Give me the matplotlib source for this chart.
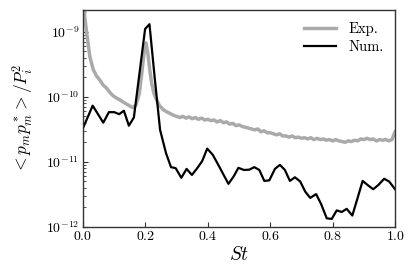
import matplotlib
matplotlib.use("Agg")
import matplotlib.pyplot as plt
from matplotlib.ticker import FuncFormatter, LogLocator, FixedLocator

plt.rcParams['font.family'] = ['cmr10', 'DejaVu Serif']
plt.rcParams['mathtext.fontset'] = 'cm'
plt.rcParams['axes.unicode_minus'] = False

exp_st = [0.0, 0.005, 0.012, 0.022, 0.033, 0.043, 0.054, 0.065, 0.076, 0.087,
          0.097, 0.108, 0.119, 0.130, 0.140, 0.150, 0.160, 0.170, 0.180, 0.188,
          0.196, 0.202, 0.208, 0.214, 0.220, 0.228, 0.236, 0.245, 0.258, 0.270,
          0.280, 0.290,
          0.30, 0.31, 0.32, 0.33, 0.34, 0.35, 0.36, 0.37, 0.38, 0.39,
          0.40, 0.41, 0.42, 0.43, 0.44, 0.45, 0.46, 0.47, 0.48, 0.49,
          0.50, 0.51, 0.52, 0.53, 0.54, 0.55, 0.56, 0.57, 0.58, 0.59,
          0.60, 0.61, 0.62, 0.63, 0.64, 0.65, 0.66, 0.67, 0.68, 0.69,
          0.70, 0.71, 0.72, 0.73, 0.74, 0.75, 0.76, 0.77, 0.78, 0.79,
          0.80, 0.81, 0.82, 0.83, 0.84, 0.85, 0.86, 0.87, 0.88, 0.89,
          0.90, 0.91, 0.92, 0.93, 0.94, 0.95, 0.96, 0.97, 0.98, 0.99, 1.00]
exp_val = [5e-9, 1.8e-9, 9.4e-10, 4.1e-10, 2.6e-10, 2.1e-10, 1.8e-10, 1.5e-10, 1.35e-10, 1.15e-10,
           1.03e-10, 9.5e-11, 8.9e-11, 8.2e-11, 7.7e-11, 7.2e-11, 6.8e-11, 7.5e-11, 1.1e-10, 2.2e-10,
           5.0e-10, 6.7e-10, 4.5e-10, 2.6e-10, 1.6e-10, 1.1e-10, 8.9e-11, 7.3e-11, 6.3e-11, 5.8e-11,
           5.5e-11, 5.2e-11,
           5.0e-11, 4.8e-11, 5.0e-11, 4.7e-11, 4.9e-11, 4.6e-11, 4.8e-11, 4.5e-11, 4.7e-11, 4.4e-11,
           4.5e-11, 4.3e-11, 4.4e-11, 4.1e-11, 4.3e-11, 4.0e-11, 4.1e-11, 3.8e-11, 3.9e-11, 3.6e-11,
           3.7e-11, 3.5e-11, 3.4e-11, 3.3e-11, 3.2e-11, 3.1e-11, 3.2e-11, 2.9e-11, 3.0e-11, 2.8e-11,
           2.8e-11, 2.7e-11, 2.6e-11, 2.7e-11, 2.5e-11, 2.5e-11, 2.4e-11, 2.5e-11, 2.35e-11, 2.4e-11,
           2.3e-11, 2.35e-11, 2.25e-11, 2.35e-11, 2.2e-11, 2.3e-11, 2.2e-11, 2.25e-11, 2.15e-11, 2.2e-11,
           2.1e-11, 2.2e-11, 2.1e-11, 2.05e-11, 2.0e-11, 2.1e-11, 2.05e-11, 2.15e-11, 2.1e-11, 2.25e-11,
           2.2e-11, 2.3e-11, 2.2e-11, 2.25e-11, 2.1e-11, 2.2e-11, 2.15e-11, 2.2e-11, 2.1e-11, 2.2e-11, 2.9e-11]

num_st = [0.0, 0.031, 0.065, 0.083, 0.100, 0.116, 0.131, 0.147, 0.163, 0.199,
          0.213, 0.230, 0.247, 0.266, 0.282, 0.297, 0.315, 0.332, 0.349, 0.366,
          0.382, 0.398, 0.416, 0.434, 0.450, 0.466, 0.482, 0.498, 0.516, 0.533,
          0.549, 0.565, 0.581, 0.597, 0.615, 0.631, 0.647, 0.663, 0.679, 0.696,
          0.712, 0.728, 0.747, 0.763, 0.781, 0.797, 0.813, 0.829, 0.845, 0.863,
          0.880, 0.896, 0.915, 0.930, 0.946, 0.965, 0.981, 1.0]
num_val = [3.3e-11, 7.3e-11, 4.0e-11, 5.8e-11, 5.8e-11, 5.4e-11, 6.1e-11, 3.6e-11, 4.8e-11, 1.1e-9,
           1.3e-9, 1.9e-10, 3.1e-11, 1.36e-11, 8.3e-12, 8.0e-12, 5.7e-12, 7.8e-12, 6.3e-12, 8.0e-12,
           1.03e-11, 1.6e-11, 1.28e-11, 8.9e-12, 6.4e-12, 4.6e-12, 5.9e-12, 8.1e-12, 7.5e-12, 7.6e-12,
           8.3e-12, 7.5e-12, 5.1e-12, 5.2e-12, 7.8e-12, 9.0e-12, 7.5e-12, 5.1e-12, 5.8e-12, 5.0e-12,
           3.5e-12, 2.8e-12, 3.2e-12, 2.25e-12, 1.36e-12, 1.33e-12, 1.8e-12, 1.7e-12, 1.9e-12, 1.5e-12,
           2.8e-12, 5.1e-12, 4.3e-12, 3.8e-12, 4.4e-12, 5.5e-12, 5.0e-12, 3.8e-12]

x_ticks = [0.0, 0.2, 0.4, 0.6, 0.8, 1.0]

fig = plt.figure(figsize=(4.15, 2.77), dpi=100)
ax = fig.add_axes([0.2, 0.1805, 0.752, 0.7835])

ax.plot(exp_st, exp_val, color='#aaaaaa', lw=2.5, label='Exp.')
ax.plot(num_st, num_val, color='black', lw=1.6, label='Num.')

ax.set_yscale('log')
ax.set_xlim(0, 1)
ax.set_ylim(1e-12, 2.15e-9)
ax.xaxis.set_major_locator(FixedLocator(x_ticks))
ax.xaxis.set_major_formatter(FuncFormatter(lambda v, p: r'$%.1f$' % v))
ax.yaxis.set_major_locator(LogLocator(base=10, numticks=10))
ax.yaxis.set_minor_locator(LogLocator(base=10, subs=range(2, 10), numticks=10))

ax.tick_params(axis='both', which='both', direction='in', top=False, right=False, labelsize=10)
ax.tick_params(axis='both', which='major', length=3.5, width=0.8, color='#333333', pad=2.5)
ax.tick_params(axis='y', which='minor', length=2, width=0.6, color='#333333')
for s in ax.spines.values():
    s.set_color('#333333')
    s.set_linewidth(1.0)

ax.set_xlabel(r'$St$', fontsize=14, labelpad=2)
ax.set_ylabel(r'$<p_m p_m^* > / P_i^2$', fontsize=12.5, labelpad=7)

ax.legend(loc='upper right', frameon=False, fontsize=10.5, handlelength=2.2,
          borderaxespad=0.4, labelspacing=0.3)

fig.savefig('out.png', dpi=100)
